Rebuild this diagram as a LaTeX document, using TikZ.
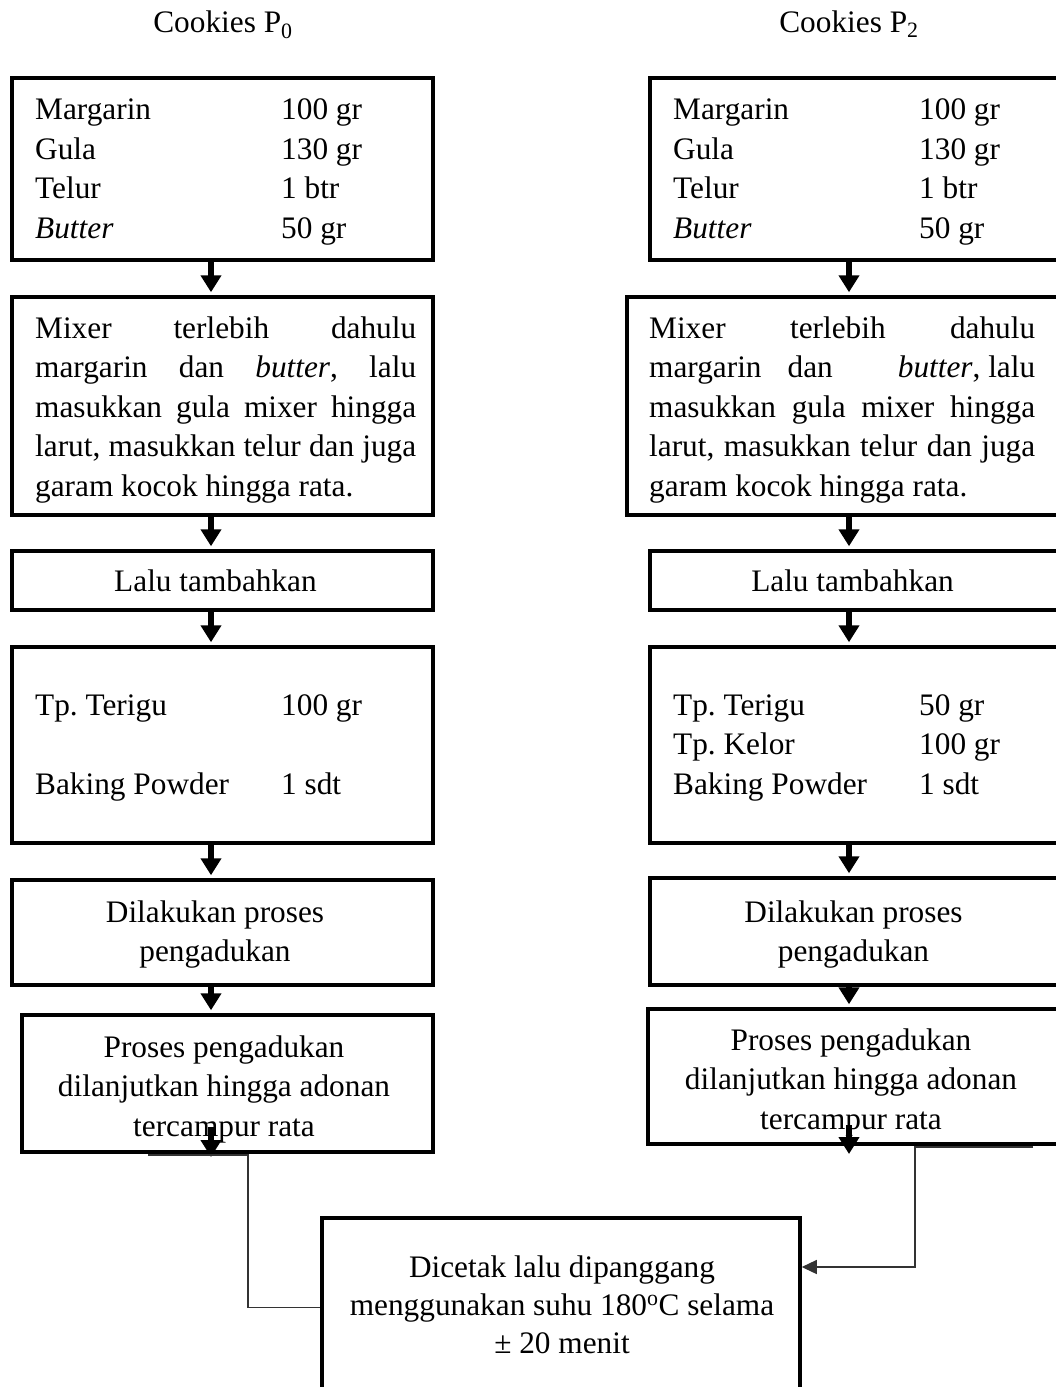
\documentclass[tikz,border=0pt]{standalone}
\usepackage{fontspec}
\setmainfont{Liberation Serif}
\usetikzlibrary{arrows.meta}
\newcommand\ingr[2]{\makebox[246pt][l]{#1}#2}
\newcommand\jline[2]{\makebox[#1][s]{#2}}
\frenchspacing
\begin{document}
\begin{tikzpicture}[x=1pt,y=-1pt,
  box/.style={draw, line width=3.5pt, inner sep=0pt},
  txt/.style={inner sep=0pt, font=\fontsize{31.3}{39.5}\selectfont},
  arr/.style={line width=6.5pt, -{Triangle[width=20pt,length=17pt]}},
  conn/.style={line width=1.3pt, draw=black!80},
  connarr/.style={line width=1.3pt, draw=black!80, -{Triangle[width=14pt,length=15pt]}},
]
\useasboundingbox (0,0) rectangle (1056,1387);
\clip (0,0) rectangle (1056,1387);

% titles
\node[txt,anchor=base] (tP0) at (223,32) {Cookies P\textsubscript{0}};
\node[txt,anchor=base] (tP2) at (849,32) {Cookies P\textsubscript{2}};

% left column boxes
\node[box,minimum width=421pt,minimum height=182pt] (L1) at (222.5,169) {};
\node[box,minimum width=421pt,minimum height=218pt] (L2) at (222.5,406) {};
\node[box,minimum width=421pt,minimum height=59pt]  (L3) at (222.5,580.5) {};
\node[box,minimum width=421pt,minimum height=196pt] (L4) at (222.5,745) {};
\node[box,minimum width=421pt,minimum height=105pt] (L5) at (222.5,932.5) {};
\node[box,minimum width=411pt,minimum height=137pt] (L6) at (227.5,1083.5) {};

% right column boxes
\node[box,minimum width=421pt,minimum height=182pt] (R1) at (860.5,169) {};
\node[box,minimum width=438pt,minimum height=218pt] (R2) at (846,406) {};
\node[box,minimum width=421pt,minimum height=59pt]  (R3) at (860.5,580.5) {};
\node[box,minimum width=421pt,minimum height=196pt] (R4) at (860.5,745) {};
\node[box,minimum width=421pt,minimum height=107pt] (R5) at (860.5,931.5) {};
\node[box,minimum width=411pt,minimum height=135pt] (R6) at (853.5,1076.5) {};

% final box
\node[box,minimum width=478pt,minimum height=179pt] (F) at (561,1307.5) {};

% texts left
\node[txt,anchor=west,align=left] (tL1) at (35,171.8)
  {\ingr{Margarin}{100 gr}\\ \ingr{Gula}{130 gr}\\ \ingr{Telur}{1 btr}\\ \ingr{\textit{Butter}}{50 gr}};
\node[txt,anchor=west,align=left] (tL2) at (35,409.7)
  {\jline{381pt}{Mixer terlebih dahulu}\\
   \jline{381pt}{margarin dan \textit{butter}, lalu}\\
   \jline{381pt}{masukkan gula mixer hingga}\\
   \jline{381pt}{larut, masukkan telur dan juga}\\
   garam kocok hingga rata.};
\node[txt,align=center] (tL3) at (215.5,581) {Lalu tambahkan};
\node[txt,anchor=west,align=left] (tL4) at (35,747.8)
  {\ingr{Tp. Terigu}{100 gr}\\[39.5pt] \ingr{Baking Powder}{1 sdt}};
\node[txt,align=center] (tL5) at (215,934.5) {Dilakukan proses\\ pengadukan};
\node[txt,align=center] (tL6) at (224,1089.2) {Proses pengadukan\\ dilanjutkan hingga adonan\\ tercampur rata};

% texts right
\node[txt,anchor=west,align=left] (tR1) at (673,171.8)
  {\ingr{Margarin}{100 gr}\\ \ingr{Gula}{130 gr}\\ \ingr{Telur}{1 btr}\\ \ingr{\textit{Butter}}{50 gr}};
\node[txt,anchor=west,align=left] (tR2) at (649,409.7)
  {\jline{386pt}{Mixer terlebih dahulu}\\
   \jline{386pt}{margarin\hspace{26pt}dan\hfill\textit{butter}, lalu}\\
   \jline{386pt}{masukkan gula mixer hingga}\\
   \jline{386pt}{larut, masukkan telur dan juga}\\
   garam kocok hingga rata.};
\node[txt,align=center] (tR3) at (852.5,581) {Lalu tambahkan};
\node[txt,anchor=west,align=left] (tR4) at (673,747.8)
  {\ingr{Tp. Terigu}{50 gr}\\ \ingr{Tp. Kelor}{100 gr}\\ \ingr{Baking Powder}{1 sdt}};
\node[txt,align=center] (tR5) at (853.5,934.5) {Dilakukan proses\\ pengadukan};
\node[txt,align=center] (tR6) at (851,1082) {Proses pengadukan\\ dilanjutkan hingga adonan\\ tercampur rata};

% final text
\node[inner sep=0pt,align=center,font=\fontsize{31.3}{38}\selectfont] (tF) at (562,1304.3)
  {Dicetak lalu dipanggang\\ menggunakan suhu 180\textsuperscript{o}C selama\\ ± 20 menit};

% arrows
\coordinate (aL) at (211,0);
\coordinate (aR) at (849,0);
\draw[arr,shorten >=3pt] (L1.south -| aL) -- (L2.north -| aL);
\draw[arr,shorten >=3pt] (L2.south -| aL) -- (L3.north -| aL);
\draw[arr,shorten >=3pt] (L3.south -| aL) -- (L4.north -| aL);
\draw[arr,shorten >=3pt] (L4.south -| aL) -- (L5.north -| aL);
\draw[arr,shorten >=3pt] (L5.south -| aL) -- (L6.north -| aL);
\draw[arr,shorten >=3pt] (R1.south -| aR) -- (R2.north -| aR);
\draw[arr,shorten >=3pt] (R2.south -| aR) -- (R3.north -| aR);
\draw[arr,shorten >=3pt] (R3.south -| aR) -- (R4.north -| aR);
\draw[arr,shorten >=3pt] (R4.south -| aR) -- (R5.north -| aR);
\draw[arr,shorten >=3pt] (R5.south -| aR) -- (R6.north -| aR);

\coordinate (dL1) at (211,1127);
\coordinate (dL2) at (211,1157);
\coordinate (dR1) at (849,1125);
\coordinate (dR2) at (849,1154);
\draw[arr] (dL1) -- (dL2);
\draw[arr] (dR1) -- (dR2);

% thin connectors to final box
\coordinate (sL) at (148,1155);
\coordinate (jL) at (248,1155);
\draw[conn] (sL) -- (jL) |- (F.west);
\coordinate (sR) at (1033,1147);
\coordinate (jR) at (915,1147);
\coordinate (kR) at (915,1267);
\draw[connarr] (sR) -- (jR) -- (kR) -- (F.east |- kR);
\end{tikzpicture}
\end{document}
